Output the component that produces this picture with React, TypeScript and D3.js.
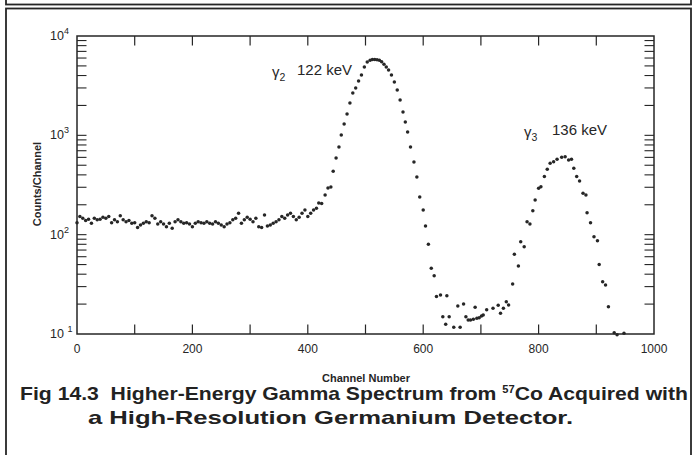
import React from 'react';
import * as d3 from 'd3';

// Channel numbers of each plotted point
const channels: number[] = [
  0, 5, 10, 15, 20, 25, 30, 35, 40, 45, 50, 55, 60, 65, 70, 75, 80, 85, 90, 95,
  100, 105, 110, 115, 120, 125, 130, 135, 140, 145, 150, 155, 160, 165, 170, 175, 180, 185, 190, 195,
  200, 205, 210, 215, 220, 225, 230, 235, 240, 245, 250, 255, 260, 265, 270, 275, 280, 285, 290, 295,
  300, 305, 310, 315, 320, 325, 330, 335, 340, 345, 350, 355, 360, 365, 370, 375, 380, 385, 390, 395,
  400, 405, 410,
  415, 419, 424, 430, 435, 440, 444, 449, 454, 458, 463, 468, 473, 478, 483, 488, 493, 498, 503, 508,
  512, 516, 520, 524, 528, 532, 536, 540, 545, 550, 555, 560, 565, 569, 573, 578, 584, 589, 594, 600,
  604, 609, 614, 619, 623, 630, 634, 639, 641, 645, 653, 660, 664, 670, 674, 678, 682, 687, 690, 693,
  697, 701, 704, 710, 721, 730, 734, 739, 744, 748, 755, 758, 765, 769, 775, 780, 785, 790, 794, 800,
  804, 810, 815, 820, 826, 832, 840, 846, 852, 857, 861, 866, 871, 877, 882, 884, 890, 896, 902, 905,
  911, 916, 921, 931, 936, 948,
];

// Counts per channel
const counts: number[] = [
  132, 152, 146, 139, 143, 130, 146, 141, 143, 150, 146, 152, 132, 141, 135, 155, 141, 135, 139, 130,
  132, 118, 125, 130, 135, 132, 155, 146, 128, 135, 128, 120, 130, 116, 135, 141, 135, 130, 132, 128,
  120, 130, 135, 132, 130, 135, 130, 128, 135, 130, 125, 120, 128, 132, 141, 146, 164, 130, 141, 150,
  143, 135, 146, 120, 118, 158, 122, 125, 130, 135, 141, 152, 146, 158, 164, 152, 141, 150, 164, 177,
  152, 164, 177,
  185, 208, 206, 251, 295, 302, 436, 590, 764, 1007, 1300, 1640, 2117, 2670, 3000, 3520, 4050, 4870, 5470, 5700,
  5800, 5800, 5750, 5700, 5500, 5200, 4870, 4550, 4050, 3440, 2860, 2270, 1720, 1360, 1080, 764, 538, 380, 240, 177,
  122, 80, 46, 38.6, 23.8, 24.7, 14.9, 12.5, 24.3, 14.9, 11.7, 19.1, 11.7, 20, 14.9, 13.8, 13.8, 14.1, 18.6, 14.4,
  14.6, 15.2, 15.5, 17.5, 18.2, 19.5, 16.2, 18.2, 21.1, 19.6, 31.8, 63.4, 48.4, 85, 75.7, 135, 128, 174, 223, 293,
  304, 384, 455, 523, 543, 574, 601, 610, 565, 574, 466, 384, 347, 261, 251, 166, 132, 95.5, 87, 50,
  33.6, 31.1, 18.8, 10.3, 9.8, 10.2,
];

const xTickLabels: number[] = [0, 200, 400, 600, 800, 1000];
const xTickMarks: number[] = [100, 200, 300, 400, 500, 600, 700, 800, 900];
const yDecades: number[] = [10, 100, 1000, 10000];
const yDecadeExponents: string[] = ['1', '2', '3', '4'];
const minorMultipliers: number[] = [2, 3, 4, 5, 6, 7, 8, 9];

const peakSubs: string[] = ['2', '3'];
const peakTexts: string[] = ['122 keV', '136 keV'];

const W = 696;
const H = 455;
const left = 77;
const right = 654;
const top = 36;
const bottom = 334;
const FONT = "'Liberation Sans', Arial, Helvetica, sans-serif";
const INK = '#262626';

export default function App() {
  const x = d3.scaleLinear().domain([0, 1000]).range([left, right]);
  const y = d3.scaleLog().domain([10, 10000]).range([bottom, top]);

  const yTickValues: number[] = [];
  yDecades.forEach((d, i) => {
    if (i > 0 && i < yDecades.length - 1) yTickValues.push(d);
    if (i < yDecades.length - 1) minorMultipliers.forEach((m) => yTickValues.push(d * m));
  });

  const tickLen = 9.5;
  const pts = channels.map((c, i) => ({ c, v: counts[i] }));

  return (
    <svg
      width={W}
      height={H}
      style={{ position: 'absolute', left: 0, top: 0, background: '#fff' }}
      fontFamily={FONT}
    >
      {/* frames */}
      <rect x={6} y={-10} width={685} height={14.5} fill="none" stroke={INK} strokeWidth={1.8} />
      <rect x={6} y={8.5} width={685} height={460} fill="none" stroke={INK} strokeWidth={1.8} />

      {/* plot box */}
      <rect x={left} y={top} width={right - left} height={bottom - top} fill="none" stroke={INK} strokeWidth={1.5} />

      {/* x ticks top and bottom */}
      {xTickMarks.map((t) => (
        <g key={'xt' + t}>
          <line x1={x(t)} x2={x(t)} y1={bottom} y2={bottom - tickLen} stroke={INK} strokeWidth={1.2} />
          <line x1={x(t)} x2={x(t)} y1={top} y2={top + tickLen} stroke={INK} strokeWidth={1.2} />
        </g>
      ))}

      {/* y ticks left and right */}
      {yTickValues.map((t) => (
        <g key={'yt' + t}>
          <line x1={left} x2={left + tickLen} y1={y(t)} y2={y(t)} stroke={INK} strokeWidth={1.1} />
          <line x1={right} x2={right - tickLen} y1={y(t)} y2={y(t)} stroke={INK} strokeWidth={1.1} />
        </g>
      ))}

      {/* x tick labels */}
      {xTickLabels.map((t) => (
        <text key={'xl' + t} x={x(t)} y={353} textAnchor="middle" fontSize={12} fill={INK}>
          {t}
        </text>
      ))}

      {/* y tick labels */}
      {yDecades.map((d, i) => (
        <text key={'yl' + d} x={50} y={y(d) + 4} fontSize={12.5} fill={INK}>
          {i === 0 ? '10 ' : '10'}
          <tspan fontSize={9} dy={-6}>{yDecadeExponents[i]}</tspan>
        </text>
      ))}

      {/* axis titles */}
      <text x={366} y={382} textAnchor="middle" fontSize={11} fontWeight="bold" fill={INK}>
        Channel Number
      </text>
      <text
        transform={`translate(41, 184) rotate(-90)`}
        textAnchor="middle"
        fontSize={11}
        fontWeight="bold"
        fill={INK}
      >
        Counts/Channel
      </text>

      {/* peak annotations */}
      <text x={272} y={77} fontSize={15} fill={INK}>
        γ<tspan fontSize={10.5} dy={4}>{peakSubs[0]}</tspan>
      </text>
      <text x={352} y={75} textAnchor="end" fontSize={15} fill={INK}>
        {peakTexts[0]}
      </text>
      <text x={524} y={137} fontSize={15} fill={INK}>
        γ<tspan fontSize={10.5} dy={4}>{peakSubs[1]}</tspan>
      </text>
      <text x={607} y={135} textAnchor="end" fontSize={15} fill={INK}>
        {peakTexts[1]}
      </text>

      {/* data points */}
      {pts.map((p, i) => (
        <circle key={i} cx={x(p.c)} cy={y(p.v)} r={1.75} fill={INK} />
      ))}

      {/* caption */}
      <text
        x={20}
        y={400}
        fontSize={19}
        fontWeight="bold"
        fill="#222"
        textLength={668}
        lengthAdjust="spacingAndGlyphs"
        style={{ whiteSpace: 'pre' }}
      >
        {'Fig 14.3  Higher-Energy Gamma Spectrum from '}
        <tspan fontSize={10} dy={-7}>57</tspan>
        <tspan dy={7}>{'Co Acquired with'}</tspan>
      </text>
      <text
        x={88}
        y={424}
        fontSize={19}
        fontWeight="bold"
        fill="#222"
        textLength={485}
        lengthAdjust="spacingAndGlyphs"
      >
        a High-Resolution Germanium Detector.
      </text>
    </svg>
  );
}
